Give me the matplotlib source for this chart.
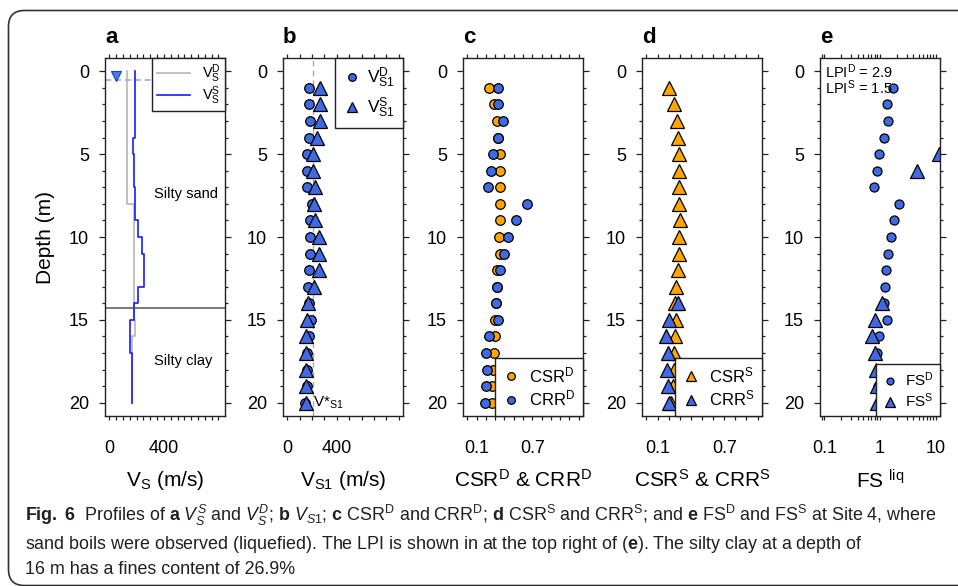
import numpy as np
import matplotlib
matplotlib.use("Agg")
import matplotlib.pyplot as plt
from matplotlib import font_manager
from matplotlib.lines import Line2D
from matplotlib.patches import FancyBboxPatch
from matplotlib.transforms import IdentityTransform
from matplotlib.ticker import MultipleLocator, LogLocator, NullFormatter

# ---------------- data ----------------
depth = np.arange(1, 21)

# (a) layered Vs profiles: layer top, layer bottom, Vs (m/s)
vsd_top = [0, 8, 15, 16]
vsd_bot = [8, 15, 16, 20]
vsd_val = [132, 178, 185, 166]
vss_top = [0, 4, 5, 7, 9, 10, 11, 13, 14, 15, 17]
vss_bot = [4, 5, 7, 9, 10, 11, 13, 14, 15, 17, 20]
vss_val = [185, 173, 178, 190, 210, 240, 252, 210, 178, 153, 166]
water_table = 0.5
water_mark = (50, 0.3)
clay_top = 14.3

# (b) normalised Vs1 (m/s)
vs1_d = [177, 177, 182, 177, 161, 156, 156, 200, 183, 183,
         183, 177, 169, 175, 188, 177, 155, 155, 155, 142]
vs1_s = [264, 264, 264, 243, 210, 210, 224, 215, 223, 256,
         256, 256, 216, 169, 156, 148, 150, 150, 150, 150]
vs1_star = 210

# (c) CSR^D and CRR^D
csr_d = [0.233, 0.287, 0.316, 0.330, 0.352, 0.352, 0.348, 0.348, 0.348, 0.345,
         0.348, 0.323, 0.316, 0.305, 0.294, 0.294, 0.287, 0.276, 0.269, 0.262]
crr_d = [0.334, 0.334, 0.388, 0.330, 0.280, 0.251, 0.226, 0.639, 0.527, 0.441,
         0.391, 0.352, 0.323, 0.305, 0.334, 0.233, 0.197, 0.208, 0.201, 0.190]

# (d) CSR^S and CRR^S (non-liquefiable layers have no CRR^S)
nan = np.nan
csr_s = [0.201, 0.252, 0.276, 0.285, 0.291, 0.297, 0.297, 0.297, 0.300, 0.297,
         0.291, 0.282, 0.270, 0.261, 0.270, 0.261, 0.252, 0.246, 0.240, 0.222]
crr_s = [nan, nan, nan, nan, 3.40, 1.36, nan, nan, nan, nan,
         nan, nan, nan, 0.282, 0.201, 0.180, 0.195, 0.186, 0.195, 0.201]

# (e) factor of safety
fs_d = [1.69, 1.32, 1.41, 1.18, 0.97, 0.87, 0.79, 2.20, 1.79, 1.58,
        1.41, 1.28, 1.23, 1.18, 1.35, 0.97, 0.90, 0.92, 0.93, 0.95]
fs_s = [nan, nan, nan, nan, 11.7, 4.57, nan, nan, nan, nan,
        nan, nan, nan, 1.07, 0.81, 0.71, 0.81, 0.84, 0.87, 0.89]
lpi_d = 2.9
lpi_s = 1.5

# ---------------- fonts ----------------
names = {f.name for f in font_manager.fontManager.ttflist}
cap_font = "Liberation Sans Narrow" if "Liberation Sans Narrow" in names else "Liberation Sans"
plt.rcParams["font.family"] = ["Liberation Sans", "DejaVu Sans"]
plt.rcParams["mathtext.fontset"] = "custom"
plt.rcParams["mathtext.rm"] = "Liberation Sans"
plt.rcParams["mathtext.it"] = "Liberation Sans:italic"
plt.rcParams["mathtext.bf"] = "Liberation Sans:bold"

BLUE = "#4169e1"
ORANGE = "#ffa500"
INK = "#222222"

W, H = 958, 586
fig = plt.figure(figsize=(W / 100, H / 100), dpi=100)
lefts = [105, 283, 463, 642, 820]
axes = [fig.add_axes([l / W, (H - 416) / H, 120 / W, 358 / H]) for l in lefts]


def style(ax, letter, xlabel):
    ax.set_ylim(20.8, -0.8)
    ax.set_yticks([0, 5, 10, 15, 20])
    ax.yaxis.set_minor_locator(MultipleLocator(1))
    ax.tick_params(axis="both", which="both", direction="out", top=True, right=True,
                   labelsize=13, width=0.9, color=INK)
    ax.tick_params(axis="y", which="major", length=4.5, pad=7)
    ax.tick_params(axis="y", which="minor", length=2.5)
    ax.tick_params(axis="x", which="both", length=3, pad=14)
    for sp in ax.spines.values():
        sp.set_linewidth(1.0)
        sp.set_color(INK)
    ax.set_xlabel(xlabel, fontsize=15, labelpad=9)
    ax.text(0, 1.058, letter, transform=ax.transAxes, fontsize=16,
            fontweight="bold", ha="left", va="center")


def box_legend(ax, handles, labels, loc, anchor, fs, **kw):
    leg = ax.legend(handles, labels, loc=loc, bbox_to_anchor=anchor, fontsize=fs,
                    frameon=True, fancybox=False, framealpha=1, edgecolor=INK,
                    borderaxespad=0, **kw)
    leg.get_frame().set_linewidth(1.0)
    leg.set_zorder(10)
    return leg


def layer_path(tops, bots, vals):
    xs, ys = [], []
    for t, b, v in zip(tops, bots, vals):
        xs += [v, v]
        ys += [t, b]
    return xs, ys


def ticks_with_labels(ticks, shown):
    return [(f"{t:g}" if any(abs(t - s) < 1e-9 for s in shown) else "") for t in ticks]


circ = dict(marker="o", ms=6.9, mec="black", mew=0.9, ls="none")
tri = dict(marker="^", ms=9.4, mec="black", mew=0.9, ls="none")

# ---------------- (a) ----------------
ax = axes[0]
ax.axhline(water_table, color="#7fa7f5", lw=1.1, ls=(0, (4, 2.5)), zorder=1)
ax.plot(*water_mark, marker="v", ms=7.5, color="#4a7cf0", mec="#1f3fbf", mew=0.8)
ax.axhline(clay_top, color="#555555", lw=1.1)
xd, yd = layer_path(vsd_top, vsd_bot, vsd_val)
xs, ys = layer_path(vss_top, vss_bot, vss_val)
ax.plot(xd, yd, color="#b5b5b5", lw=1.2)
ax.plot(xs, ys, color="#1a1aff", lw=1.2)
ax.text(560, 7.4, "Silty sand", fontsize=10.5, ha="center", va="center")
ax.text(538, 17.5, "Silty clay", fontsize=10.5, ha="center", va="center")
ax.set_xlim(-32, 848)
t = np.arange(0, 801, 50)
ax.set_xticks(t, ticks_with_labels(t, [0, 400]))
style(ax, "a", r"V$_\mathrm{S}$ (m/s)")
ax.set_ylabel("Depth (m)", fontsize=15, labelpad=10)
box_legend(ax, [Line2D([], [], color="#b5b5b5", lw=1.2), Line2D([], [], color="#1a1aff", lw=1.2)],
           [r"V$_\mathrm{S}^\mathrm{D}$", r"V$_\mathrm{S}^\mathrm{S}$"],
           "upper right", (1, 1), 10.5, handlelength=2.3, labelspacing=-0.05,
           borderpad=0.3, handletextpad=0.8)

# ---------------- (b) ----------------
ax = axes[1]
ax.axvline(vs1_star, color="#aaaaaa", lw=1.0, ls=(0, (4, 3)), zorder=1)
ax.plot(vs1_d, depth, color=BLUE, **circ)
ax.plot(vs1_s, depth, color=BLUE, **tri)
ax.text(vs1_star, 20, r"V*$_\mathrm{S1}$", fontsize=11, ha="left", va="center")
ax.set_xlim(-36, 936)
t = np.arange(0, 901, 100)
ax.set_xticks(t, ticks_with_labels(t, [0, 400]))
style(ax, "b", r"V$_\mathrm{S1}$ (m/s)")
box_legend(ax, [Line2D([], [], color=BLUE, **{**circ, "ms": 5.5}),
                Line2D([], [], color=BLUE, **{**tri, "ms": 7.5})],
           [r"V$_\mathrm{S1}^\mathrm{D}$", r"V$_\mathrm{S1}^\mathrm{S}$"],
           "upper right", (1, 1), 12.5, handlelength=1.0, labelspacing=0.3,
           borderpad=0.45, handletextpad=0.4)

# ---------------- (c) ----------------
ax = axes[2]
ax.plot(csr_d, depth, color=ORANGE, **circ)
ax.plot(crr_d, depth, color=BLUE, **circ)
ax.set_xlim(-0.048, 1.248)
t = np.round(np.arange(0, 1.21, 0.1), 1)
ax.set_xticks(t, ticks_with_labels(t, [0.1, 0.7]))
style(ax, "c", r"CSR$^\mathrm{D}$ & CRR$^\mathrm{D}$")
box_legend(ax, [Line2D([], [], color=ORANGE, **{**circ, "ms": 5.5}),
                Line2D([], [], color=BLUE, **{**circ, "ms": 5.5})],
           [r"CSR$^\mathrm{D}$", r"CRR$^\mathrm{D}$"],
           "lower right", (1, 0), 12, handlelength=1.0, labelspacing=0.2,
           borderpad=0.45, handletextpad=0.6)

# ---------------- (d) ----------------
ax = axes[3]
ax.plot(csr_s, depth, color=ORANGE, **tri)
ax.plot(crr_s, depth, color=BLUE, **tri)
ax.set_xlim(-0.04, 1.04)
t = np.round(np.arange(0, 1.01, 0.1), 1)
ax.set_xticks(t, ticks_with_labels(t, [0.1, 0.7]))
style(ax, "d", r"CSR$^\mathrm{S}$ & CRR$^\mathrm{S}$")
box_legend(ax, [Line2D([], [], color=ORANGE, **{**tri, "ms": 7.5}),
                Line2D([], [], color=BLUE, **{**tri, "ms": 7.5})],
           [r"CSR$^\mathrm{S}$", r"CRR$^\mathrm{S}$"],
           "lower right", (1, 0), 12, handlelength=1.0, labelspacing=0.2,
           borderpad=0.45, handletextpad=0.6)

# ---------------- (e) ----------------
ax = axes[4]
ax.plot(fs_d, depth, color=BLUE, **{**circ, "ms": 6.5})
ax.plot(fs_s, depth, color=BLUE, **{**tri, "ms": 10})
ax.set_xscale("log")
ax.set_xlim(10 ** -1.08, 10 ** 1.08)
ax.set_xticks([0.1, 1, 10], ["0.1", "1", "10"])
ax.xaxis.set_minor_locator(LogLocator(base=10, subs=np.arange(2, 10)))
ax.xaxis.set_minor_formatter(NullFormatter())
style(ax, "e", r"FS $^\mathrm{liq}$")
ytr = ax.get_yaxis_transform()
ax.text(0.04, 0, rf"LPI$^\mathrm{{D}}$ = {lpi_d}", transform=ytr, fontsize=10.5, va="center")
ax.text(0.04, 1, rf"LPI$^\mathrm{{S}}$ = {lpi_s}", transform=ytr, fontsize=10.5, va="center")
box_legend(ax, [Line2D([], [], color=BLUE, **{**circ, "ms": 5.0}),
                Line2D([], [], color=BLUE, **{**tri, "ms": 7.0})],
           [r"FS$^\mathrm{D}$", r"FS$^\mathrm{S}$"],
           "lower right", (1, 0), 11, handlelength=1.0, labelspacing=0.15,
           borderpad=0.4, handletextpad=0.5)

# ---------------- caption and frame ----------------
cap1 = (r"$\mathbf{Fig.\ 6}$  Profiles of $\mathbf{a}$ $V_S^S$ and $V_S^D$; $\mathbf{b}$ $V_{S1}$; "
        r"$\mathbf{c}$ CSR$^\mathrm{D}$ and CRR$^\mathrm{D}$; $\mathbf{d}$ CSR$^\mathrm{S}$ and "
        r"CRR$^\mathrm{S}$; and $\mathbf{e}$ FS$^\mathrm{D}$ and FS$^\mathrm{S}$ at Site 4, where")
cap2 = (r"sand boils were observed (liquefied). The LPI is shown in at the top right of "
        r"($\mathbf{e}$). The silty clay at a depth of")
cap3 = "16 m has a fines content of 26.9%"
for line, yb in zip([cap1, cap2, cap3], [521, 549, 574]):
    fig.text(25 / W, (H - yb) / H, line, fontsize=12.9, family=cap_font,
             va="baseline", ha="left", color="#231f20")

frame = FancyBboxPatch((8.5, 0.5), 1200, 575, boxstyle="round,pad=0,rounding_size=16",
                       transform=IdentityTransform(), fill=False, lw=1.2, ec="#333333")
fig.add_artist(frame)

fig.savefig("out.png", dpi=100)
